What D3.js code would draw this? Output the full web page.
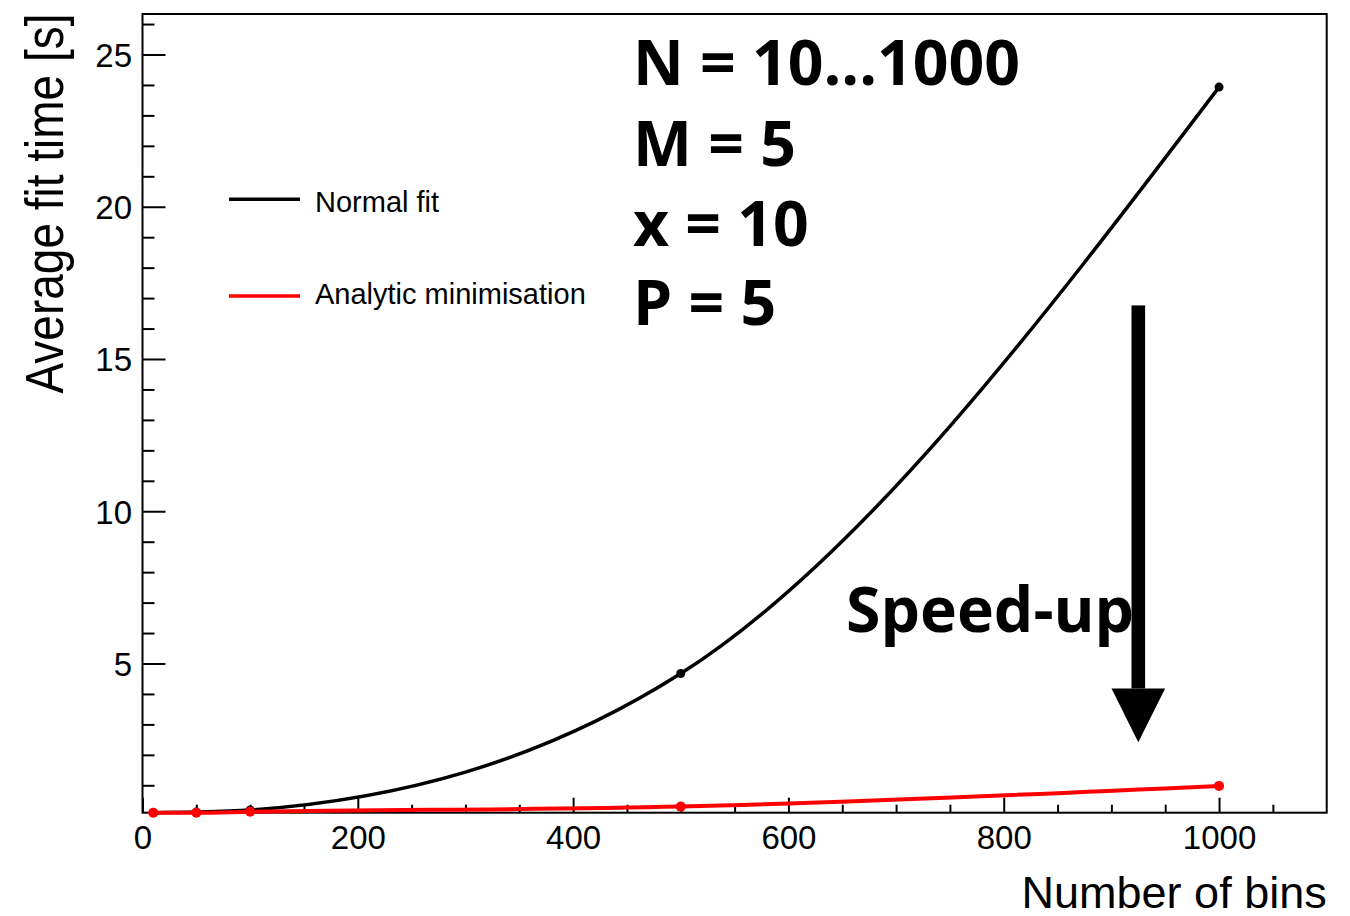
<!DOCTYPE html>
<html>
<head>
<meta charset="utf-8">
<script src="https://cdn.jsdelivr.net/npm/d3@7"></script>
<style>
  html, body { margin: 0; padding: 0; background: #fff; }
  svg { display: block; }
</style>
</head>
<body>
<svg id="chart" width="1350" height="916"></svg>
<script>
// ---- data ----
const bins = [10, 50, 100, 500, 1000];
const normalFit = [0.10, 0.12, 0.19, 4.67, 23.93];
const analyticMin = [0.10, 0.10, 0.13, 0.30, 0.98];
const xMajorTicks = [0, 200, 400, 600, 800, 1000];
const yMajorTicks = [5, 10, 15, 20, 25];
const seriesNames = ["Normal fit", "Analytic minimisation"];
const seriesColors = ["#000000", "#ff0000"];
const infoLines = ["N = 10...1000", "M = 5", "x = 10", "P = 5"];
const arrowLabel = "Speed-up";
// arrow in data units: x position, top, head base, tip
const arrowX = 925, arrowTop = 16.76, arrowHeadBase = 4.18, arrowTip = 2.41;

// ---- layout ----
const frame = { left: 142.5, right: 1326.7, top: 14, bottom: 812.7 };
const svg = d3.select("#chart");

const x = d3.scaleLinear().domain([0, 1100]).range([frame.left, frame.right]);
const y = d3.scaleLinear().domain([0.1, 26.33]).range([frame.bottom, frame.top]);

const tickFont = "'Liberation Sans', Arial, Helvetica, sans-serif";
const boldFont = "'Open Sans', 'DejaVu Sans', sans-serif";

// frame
svg.append("rect")
  .attr("x", frame.left).attr("y", frame.top)
  .attr("width", frame.right - frame.left).attr("height", frame.bottom - frame.top)
  .attr("fill", "none").attr("stroke", "#000").attr("stroke-width", 2);

// x axis minor
const xMinor = d3.range(0, 1100, 50).filter(v => !xMajorTicks.includes(v));
const gxMinor = svg.append("g").attr("transform", `translate(0,${frame.bottom})`)
  .call(d3.axisBottom(x).tickValues(xMinor).tickSize(-8).tickFormat(""));
gxMinor.select(".domain").remove();
gxMinor.selectAll("line").attr("stroke-width", 2);

// x axis major
const gx = svg.append("g").attr("transform", `translate(0,${frame.bottom})`)
  .call(d3.axisBottom(x).tickValues(xMajorTicks).tickSize(-15).tickFormat(d3.format("d")));
gx.select(".domain").remove();
gx.selectAll("line").attr("stroke-width", 2);
gx.selectAll("text")
  .attr("y", 36.5).attr("dy", null)
  .attr("font-family", tickFont).attr("font-size", 33).attr("fill", "#000");

// y axis minor
const yMinor = d3.range(1, 27).filter(v => !yMajorTicks.includes(v));
const gyMinor = svg.append("g").attr("transform", `translate(${frame.left},0)`)
  .call(d3.axisLeft(y).tickValues(yMinor).tickSize(-12).tickFormat(""));
gyMinor.select(".domain").remove();
gyMinor.selectAll("line").attr("stroke-width", 2);

// y axis major
const gy = svg.append("g").attr("transform", `translate(${frame.left},0)`)
  .call(d3.axisLeft(y).tickValues(yMajorTicks).tickSize(-23).tickFormat(d3.format("d")));
gy.select(".domain").remove();
gy.selectAll("line").attr("stroke-width", 2);
gy.selectAll("text")
  .attr("x", -10.5).attr("dy", "0.36em")
  .attr("font-family", tickFont).attr("font-size", 33).attr("fill", "#000");

// axis titles
svg.append("text")
  .attr("x", frame.right).attr("y", 908)
  .attr("text-anchor", "end")
  .attr("font-family", tickFont).attr("font-size", 45)
  .text("Number of bins");

svg.append("g")
  .attr("transform", "translate(63,203.5) rotate(-90) scale(1,1.18)")
  .append("text")
  .attr("text-anchor", "middle")
  .attr("font-family", tickFont).attr("font-size", 46)
  .text("Average fit time [s]");

// series
const allSeries = [normalFit, analyticMin];
const line = d3.line().x((d, i) => x(bins[i])).y(d => y(d)).curve(d3.curveMonotoneX);
const widths = [3.5, 4];
const radii = [4.5, 5];

allSeries.forEach((vals, k) => {
  svg.append("path")
    .datum(vals)
    .attr("d", line)
    .attr("fill", "none")
    .attr("stroke", seriesColors[k])
    .attr("stroke-width", widths[k]);
  svg.append("g").selectAll("circle")
    .data(vals)
    .join("circle")
    .attr("cx", (d, i) => x(bins[i]))
    .attr("cy", d => y(d))
    .attr("r", radii[k])
    .attr("fill", seriesColors[k]);
});

// legend
const legendY = [199.3, 296];
const legendTextY = [211.5, 304];
seriesNames.forEach((name, k) => {
  svg.append("line")
    .attr("x1", 229).attr("x2", 300)
    .attr("y1", legendY[k]).attr("y2", legendY[k])
    .attr("stroke", seriesColors[k]).attr("stroke-width", 3.5);
  svg.append("text")
    .attr("x", 315).attr("y", legendTextY[k])
    .attr("font-family", tickFont).attr("font-size", 29)
    .text(name);
});

// info text
const infoBaselines = [85, 165.5, 245.5, 325];
infoLines.forEach((t, i) => {
  svg.append("text")
    .attr("x", 633).attr("y", infoBaselines[i])
    .attr("font-family", boldFont).attr("font-weight", 700).attr("font-size", 62.5)
    .text(t);
});

// speed-up label and arrow
svg.append("text")
  .attr("x", 846).attr("y", 631.5)
  .attr("font-family", boldFont).attr("font-weight", 700).attr("font-size", 62.5)
  .text(arrowLabel);

const ax = x(arrowX);
svg.append("rect")
  .attr("x", ax - 6.8).attr("y", y(arrowTop))
  .attr("width", 13.6).attr("height", y(arrowHeadBase) - y(arrowTop))
  .attr("fill", "#000");
svg.append("path")
  .attr("d", `M${ax - 26.8},${y(arrowHeadBase)} L${ax + 26.8},${y(arrowHeadBase)} L${ax},${y(arrowTip)} Z`)
  .attr("fill", "#000");
</script>
</body>
</html>
